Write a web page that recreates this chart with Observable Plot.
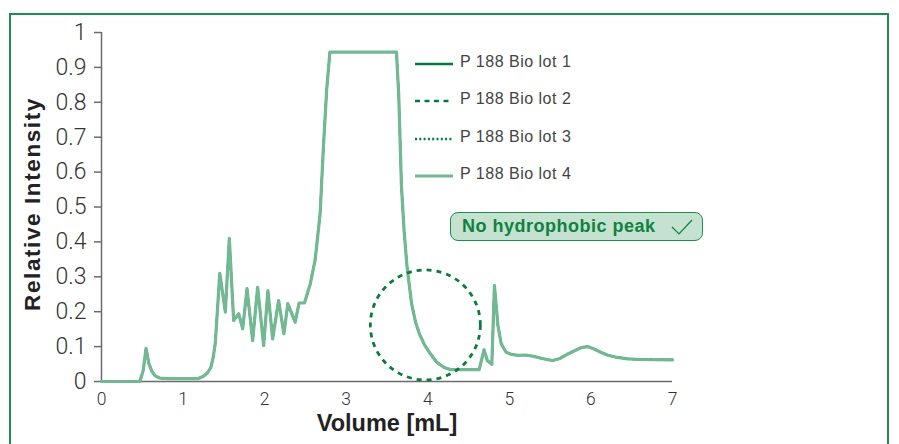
<!DOCTYPE html>
<html>
<head>
<meta charset="utf-8">
<script src="https://cdn.jsdelivr.net/npm/d3@7"></script>
<script src="https://cdn.jsdelivr.net/npm/@observablehq/plot@0.6"></script>
<style>
  html, body { margin: 0; padding: 0; background: #fff; }
  #wrap { position: relative; width: 899px; height: 444px; overflow: hidden; font-family: "Liberation Sans", Arial, sans-serif; }
  #frame { position: absolute; left: 9px; top: 13px; width: 880px; height: 460px; border: 2.5px solid #1f8d4e; box-sizing: border-box; pointer-events: none; }
  #legend { position: absolute; left: 414px; top: 59px; }
  .item { position: relative; height: 37.3px; display: flex; align-items: flex-start; }
  .item svg { display: block; margin-top: 2px; }
  .item span { font-size: 16px; color: #444; letter-spacing: 0.5px; margin-left: 6px; line-height: 20px; margin-top: -7px; }
  #note { position: absolute; left: 450px; top: 212px; width: 253px; height: 29px; box-sizing: border-box;
          border: 1.5px solid #1f8d4e; border-radius: 8px; background: #c4e2cf; }
  #note span { position: absolute; left: 11px; top: 3px; font-size: 18px; font-weight: bold; color: #0f8141; letter-spacing: 0.5px; }
  #note svg { position: absolute; left: 219px; top: 6px; }
</style>
</head>
<body>
<div id="wrap">
  <div id="chart"></div>
  <div id="legend"></div>
  <div id="note"><span>No hydrophobic peak</span>
    <svg width="24" height="18"><polyline points="2,8 9,15 22,1" fill="none" stroke="#0f8141" stroke-width="1.2"/></svg>
  </div>
  <div id="frame"></div>
</div>
<script>
// Elution profile: volume (mL) and relative intensity
const volume = [0, 0.47, 0.51, 0.546, 0.58, 0.62, 0.66, 0.71, 0.8, 1.18, 1.25, 1.3, 1.34, 1.37, 1.395, 1.42, 1.45,
  1.518, 1.567, 1.62, 1.682, 1.731, 1.784, 1.853, 1.914, 1.988, 2.04, 2.098, 2.171, 2.236, 2.284, 2.374, 2.422, 2.488,
  2.56, 2.62, 2.68, 2.72, 2.76, 2.80, 3.616, 3.644, 3.677, 3.71, 3.745, 3.80, 3.85, 3.90, 3.96, 4.03, 4.11, 4.2, 4.28,
  4.63, 4.69, 4.73, 4.785, 4.817, 4.86, 4.90, 4.96, 5.02, 5.1, 5.2, 5.3, 5.4, 5.53, 5.62, 5.71, 5.8, 5.88, 5.96, 6.04,
  6.12, 6.2, 6.3, 6.45, 6.6, 7.0];
const intensity = [0, 0, 0.03, 0.095, 0.052, 0.028, 0.016, 0.01, 0.008, 0.008, 0.015, 0.025, 0.04, 0.07, 0.11, 0.2, 0.31,
  0.199, 0.41, 0.175, 0.194, 0.151, 0.266, 0.117, 0.27, 0.103, 0.26, 0.122, 0.232, 0.137, 0.223, 0.17, 0.225, 0.225,
  0.28, 0.35, 0.48, 0.67, 0.834, 0.944, 0.944, 0.82, 0.56, 0.43, 0.33, 0.225, 0.17, 0.135, 0.105, 0.08, 0.055, 0.04, 0.034,
  0.034, 0.091, 0.06, 0.049, 0.275, 0.16, 0.108, 0.084, 0.078, 0.075, 0.076, 0.072, 0.066, 0.06, 0.066, 0.078, 0.088, 0.097, 0.1, 0.093,
  0.084, 0.076, 0.07, 0.065, 0.063, 0.062];

// The four lots overlap completely; lot 4 is drawn last
const lots = ["P 188 Bio lot 1", "P 188 Bio lot 2", "P 188 Bio lot 3", "P 188 Bio lot 4"];
const lotColors = ["#007d3c", "#007d3c", "#007d3c", "#72b893"];
const lotDashes = [null, "5,4.5", "2,2.3", null];

const xTicks = [0, 1, 2, 3, 4, 5, 6, 7];
const yTicks = [0, 0.1, 0.2, 0.3, 0.4, 0.5, 0.6, 0.7, 0.8, 0.9, 1];

// Highlighted region where a hydrophobic peak would appear
const circleX = [3.97];
const circleY = [0.162];

const profile = volume.map((v, i) => ({v, y: intensity[i]}));

const lineMarks = lots.map((lot, i) => Plot.line(profile, {
  x: "v", y: "y", stroke: lotColors[i], strokeWidth: i === 3 ? 3.2 : 2,
  strokeDasharray: lotDashes[i] ?? undefined
}));

const chart = Plot.plot({
  width: 899, height: 444,
  marginLeft: 101, marginRight: 227, marginTop: 32, marginBottom: 63,
  style: {fontFamily: "Roboto, 'Liberation Sans', sans-serif", background: "transparent"},
  x: {domain: [0, 7]},
  y: {domain: [0, 1]},
  marks: [
    Plot.axisY(yTicks, {tickSize: 7, tickPadding: 8, stroke: "#6b6b6b", strokeWidth: 1.5, fill: "#333",
      fontSize: 23, fontWeight: 300, label: null, tickFormat: d => String(+d.toFixed(1))}),
    Plot.axisX(xTicks, {tickSize: 0, tickPadding: 11, fill: "#333", fontSize: 17.5, fontWeight: 300, label: null}),
    Plot.ruleX([0], {stroke: "#6b6b6b", strokeWidth: 1.5}),
    Plot.ruleY([0], {stroke: "#6b6b6b", strokeWidth: 1.5}),
    ...lineMarks,
    Plot.dot(circleX.map((x, i) => ({x, y: circleY[i]})), {x: "x", y: "y", r: 55, fill: "none",
      stroke: "#0b7a3b", strokeWidth: 2.8, strokeDasharray: "5,5"}),
    Plot.text(["Relative Intensity"], {frameAnchor: "left", dx: -69, dy: -3, rotate: -90, textAnchor: "middle",
      lineAnchor: "middle", fontSize: 22.5, fontWeight: "bold", fill: "#222", fontFamily: "Liberation Sans, Arial, sans-serif"}),
    Plot.text(["Volume [mL]"], {frameAnchor: "bottom", dy: 42, textAnchor: "middle", lineAnchor: "middle",
      fontSize: 23.5, fontWeight: "bold", fill: "#222", fontFamily: "Liberation Sans, Arial, sans-serif"})
  ]
});
document.getElementById("chart").appendChild(chart);

// Extra tracking on the y-axis title
d3.select(chart).selectAll("text")
  .filter(function () { return this.textContent === "Relative Intensity"; })
  .style("letter-spacing", "1.6px");

// Legend entries
const legend = document.getElementById("legend");
lots.forEach((lot, i) => {
  const item = document.createElement("div");
  item.className = "item";
  const dash = lotDashes[i] ? ` stroke-dasharray="${lotDashes[i]}"` : "";
  item.innerHTML = `<svg width="40" height="6"><line x1="1" y1="3" x2="39" y2="3" stroke="${lotColors[i]}" stroke-width="${i === 3 ? 3 : 2.6}"${dash}/></svg><span>${lot}</span>`;
  legend.appendChild(item);
});
</script>
</body>
</html>
